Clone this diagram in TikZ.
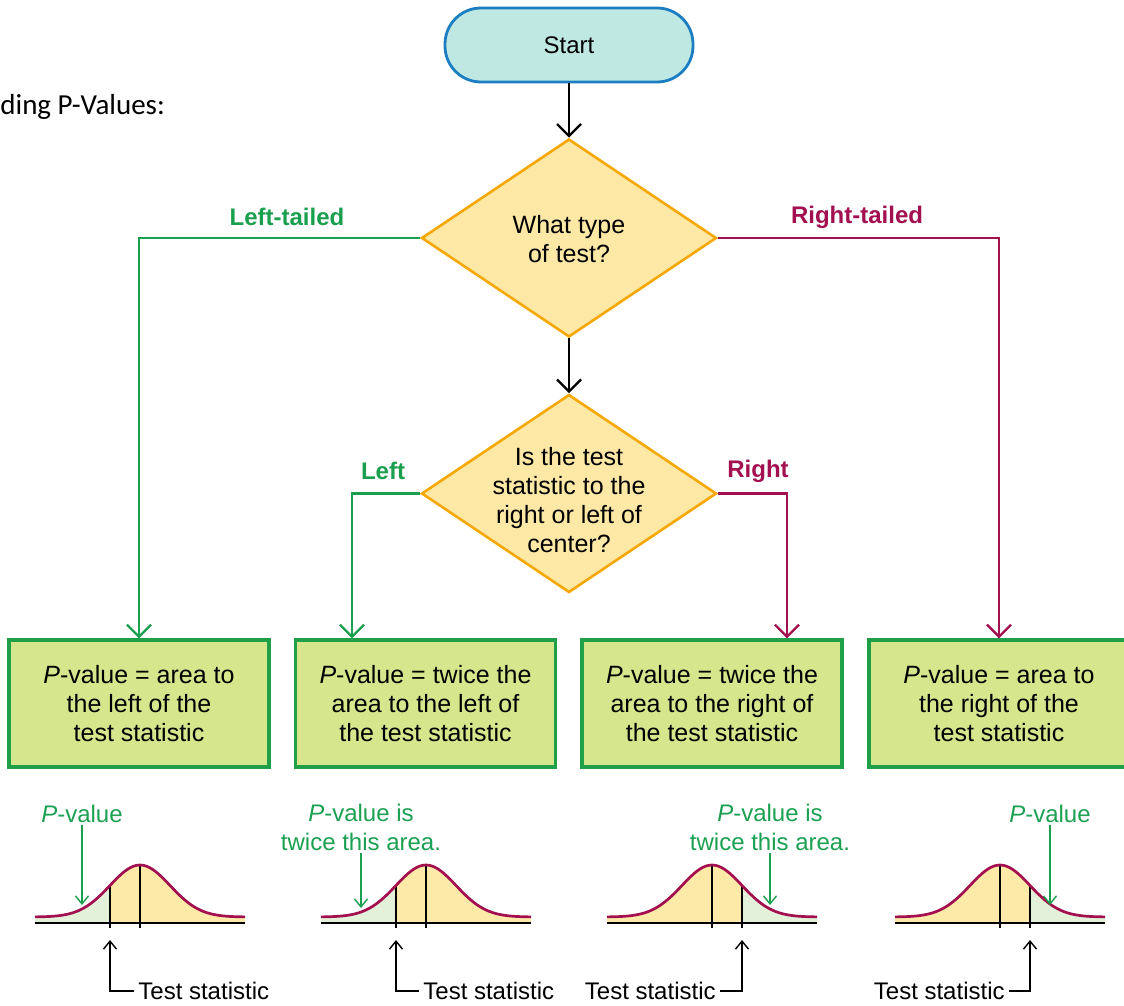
\documentclass[tikz,border=0pt]{standalone}
\usepackage{fontspec}
\setmainfont{Liberation Sans}
\newfontfamily\titlefont{Carlito}
\usetikzlibrary{arrows.meta,shapes.geometric}
\definecolor{gr}{HTML}{1A9F4E}
\definecolor{mg}{HTML}{A3104F}
\definecolor{orng}{HTML}{F6A800}
\definecolor{dfill}{HTML}{FDE8A6}
\definecolor{bfill}{HTML}{D5E68C}
\definecolor{bbord}{HTML}{1F9F48}
\definecolor{sfill}{HTML}{C0E8E2}
\definecolor{sbord}{HTML}{1B7EC2}
\definecolor{tailc}{HTML}{E3F0DA}
\definecolor{cfill}{HTML}{FDE9A8}
\definecolor{gtxt}{HTML}{1CA152}
\definecolor{curvec}{HTML}{A3104F}
\tikzset{
 startbox/.style={draw=sbord, fill=sfill, line width=1.4pt, rounded corners=18pt, minimum width=124pt, minimum height=37pt, inner sep=0},
 diam/.style={diamond, draw=orng, fill=dfill, line width=1.3pt, minimum width=147.5pt, minimum height=99pt, inner sep=0},
 dtext/.style={align=center, font=\fontsize{12.5}{14.5}\selectfont, inner sep=0},
 resbox/.style={draw=bbord, fill=bfill, line width=1.6pt, minimum width=130pt, minimum height=63.5pt, align=center, font=\fontsize{12.5}{14.5}\selectfont, inner sep=0},
 blk/.style={line width=1.2pt, -{Straight Barb[length=6pt,width=12pt]}},
 gline/.style={draw=gr, line width=1.2pt, -{Straight Barb[length=6pt,width=12pt]}},
 mline/.style={draw=mg, line width=1.2pt, -{Straight Barb[length=6pt,width=12pt]}},
 garrow/.style={draw=gr, line width=0.7pt, -{Straight Barb[length=4pt,width=6.5pt]}},
 karrow/.style={line width=0.7pt, -{Straight Barb[length=4pt,width=6.5pt]}},
 gtext/.style={text=gtxt, align=center, inner sep=1pt},
 glbl/.style={text=gr, font=\fontsize{12}{14.5}\selectfont\bfseries},
 mlbl/.style={text=mg, font=\fontsize{12}{14.5}\selectfont\bfseries},
 tsnode/.style={inner sep=2pt}
}
\newcommand\mybell[4]{%
 \pgfmathsetmacro\bellA{#1-105}%
 \pgfmathsetmacro\bellB{#1+105}%
 \fill[cfill] plot[domain=\bellA:\bellB,samples=71,smooth] (\x,{917-52*exp(-((\x-#1)*(\x-#1))/1800)}) -- (\bellB,923) -- (\bellA,923) -- cycle;
 \fill[tailc] plot[domain=#3:#4,samples=31,smooth] (\x,{917-52*exp(-((\x-#1)*(\x-#1))/1800)}) -- (#4,923) -- (#3,923) -- cycle;
 \draw[line width=0.9pt] (#1,865) -- (#1,928);
 \draw[line width=0.9pt] (#2,{917-52*exp(-0.5)}) -- (#2,928);
 \draw[line width=1pt] (\bellA,923) -- (\bellB,923);
 \draw[curvec, line width=1.35pt] plot[domain=\bellA:\bellB,samples=71,smooth] (\x,{917-52*exp(-((\x-#1)*(\x-#1))/1800)});
}
\begin{document}
\begin{tikzpicture}[x=0.5pt,y=-0.5pt, font=\fontsize{12}{14.5}\selectfont]
\useasboundingbox (0,0) rectangle (1124,1006);
\fill[white] (0,0) rectangle (1124,1006);

\node[anchor=west, font=\titlefont\fontsize{14.5}{16}\selectfont, inner sep=0] (title) at (0,107) {ding P-Values:};

\node[startbox] (start) at (569,45) {Start};
\node[diam] (d1) at (569,238) {};
\node[dtext] (d1t) at (569,239) {What type\\of test?};
\node[diam] (d2) at (569,493.5) {};
\node[dtext] (d2t) at (569,500.5) {Is the test\\statistic to the\\right or left of\\center?};

\node[resbox] (b1) at (139,703.5) {\textit{P}-value = area to\\the left of the\\test statistic};
\node[resbox] (b2) at (425.5,703.5) {\textit{P}-value = twice the\\area to the left of\\the test statistic};
\node[resbox] (b3) at (712,703.5) {\textit{P}-value = twice the\\area to the right of\\the test statistic};
\node[resbox] (b4) at (999,703.5) {\textit{P}-value = area to\\the right of the\\test statistic};

\coordinate (xl) at (352,0);
\coordinate (xr) at (787,0);

\draw[blk] (start) -- (d1);
\draw[blk] (d1) -- (d2);
\draw[gline] (d1.west) -| (b1.north);
\draw[mline] (d1.east) -| (b4.north);
\draw[gline] (d2.west) -| (b2.north -| xl);
\draw[mline] (d2.east) -| (b3.north -| xr);

\node[glbl] (lt) at (287,217) {Left-tailed};
\node[mlbl] (rt) at (857,217) {Right-tailed};
\node[glbl] (ll) at (383,471) {Left};
\node[mlbl] (rr) at (758,471) {Right};

% bell curves
\mybell{140}{110}{35}{110}
\mybell{426}{396}{321}{396}
\mybell{712}{742}{742}{817}
\mybell{1000}{1030}{1030}{1105}

% P-value annotations
\node[gtext] (pv1) at (82,814) {\textit{P}-value};
\coordinate (pv1t) at (82,905);
\draw[garrow] (pv1) -- (pv1t);
\node[gtext] (pv2) at (361,827) {\textit{P}-value is\\twice this area.};
\coordinate (pv2t) at (361,908);
\draw[garrow] (pv2) -- (pv2t);
\node[gtext] (pv3) at (770,827) {\textit{P}-value is\\twice this area.};
\coordinate (pv3t) at (770,905);
\draw[garrow] (pv3) -- (pv3t);
\node[gtext] (pv4) at (1050,814) {\textit{P}-value};
\coordinate (pv4t) at (1050,905);
\draw[garrow] (pv4) -- (pv4t);

% Test statistic annotations
\node[tsnode, anchor=west] (ts1) at (134,991) {Test statistic};
\coordinate (tc1) at (110,940);
\draw[karrow] (ts1.west) -| (tc1);
\node[tsnode, anchor=west] (ts2) at (419,991) {Test statistic};
\coordinate (tc2) at (396,940);
\draw[karrow] (ts2.west) -| (tc2);
\node[tsnode, anchor=east] (ts3) at (720,991) {Test statistic};
\coordinate (tc3) at (742,940);
\draw[karrow] (ts3.east) -| (tc3);
\node[tsnode, anchor=east] (ts4) at (1009,991) {Test statistic};
\coordinate (tc4) at (1030,940);
\draw[karrow] (ts4.east) -| (tc4);
\end{tikzpicture}
\end{document}
